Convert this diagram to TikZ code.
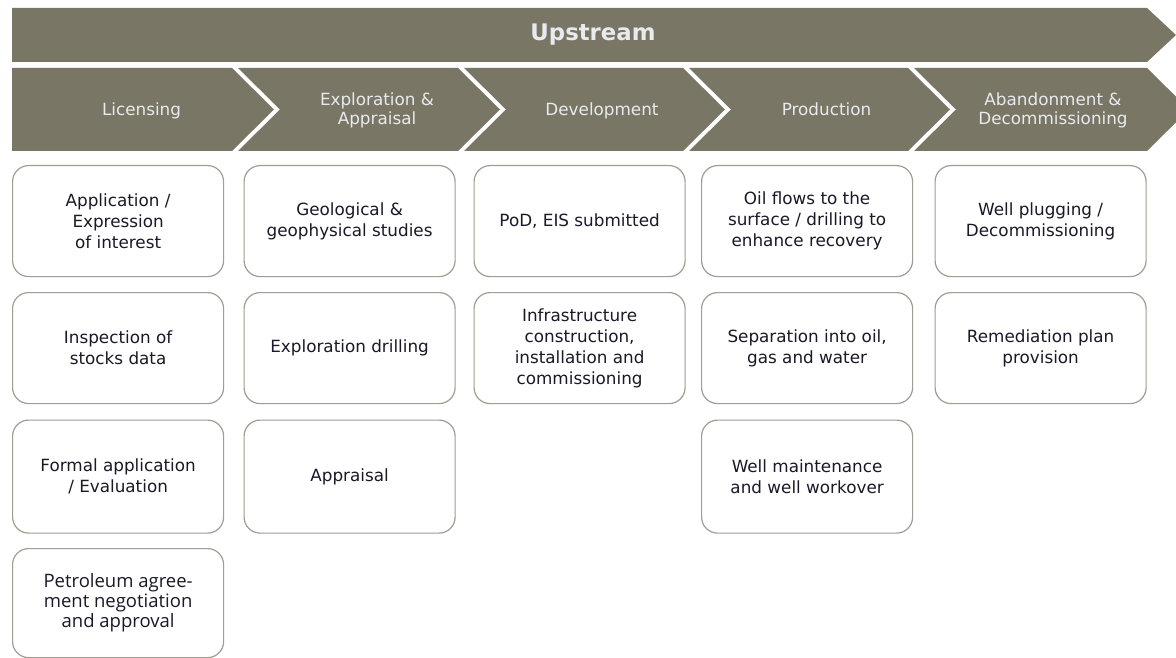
\documentclass[tikz,border=0pt]{standalone}
\usepackage{fontspec}
\setmainfont{DejaVu Sans}
\newfontfamily\segoe{Open Sans}
\definecolor{band}{RGB}{121,118,101}
\definecolor{bandtext}{RGB}{232,234,238}
\definecolor{boxline}{RGB}{158,158,146}
\definecolor{boxtext}{RGB}{25,25,40}
\tikzset{
  chev/.style={fill=band, draw=none},
  chevlabel/.style={text=bandtext, align=center, font=\fontsize{16.8}{19}\selectfont, inner sep=0pt},
  stagebox/.style={draw=boxline, line width=1.2pt, fill=white, rounded corners=16pt,
     minimum width=211pt, minimum height=111pt, anchor=north west, inner sep=0pt,
     text=boxtext, align=center, font=\fontsize{16.8}{21}\selectfont},
}
\begin{document}
\begin{tikzpicture}[x=1pt,y=-1pt]
\useasboundingbox (0,0) rectangle (1176,658);
\fill[white] (0,0) rectangle (1176,658);
% top banner
\fill[chev] (12,8) -- (1147,8) -- (1176,35) -- (1147,62) -- (12,62) -- cycle;
\node[text=bandtext, font=\bfseries\fontsize{22.8}{24}\selectfont, inner sep=0pt] (up) at (593,35) {Upstream};
% chevrons
\fill[chev] (12,68) -- (232,68) -- (274,109.5) -- (232,151) -- (12,151) -- cycle;
\fill[chev] (238,68) -- (458,68) -- (500,109.5) -- (458,151) -- (238,151) -- (280,109.5) -- cycle;
\fill[chev] (464,68) -- (683,68) -- (725,109.5) -- (683,151) -- (464,151) -- (506,109.5) -- cycle;
\fill[chev] (689,68) -- (908,68) -- (950,109.5) -- (908,151) -- (689,151) -- (731,109.5) -- cycle;
\fill[chev] (914,68) -- (1147,68) -- (1189,109.5) -- (1147,151) -- (914,151) -- (956,109.5) -- cycle;
\node[chevlabel] (lic) at (141.5,111) {Licensing};
\node[chevlabel] (exp) at (377,110) {Exploration \&\\Appraisal};
\node[chevlabel] (dev) at (602,111) {Development};
\node[chevlabel] (prod) at (826.5,109.2) {Production};
\node[chevlabel] (aban) at (1053,110) {Abandonment \&\\Decommissioning};
% column 1
\node[stagebox] (b11) at (12,165) {Application /\\Expression\\of interest};
\node[stagebox] (b12) at (12,292) {Inspection of\\stocks data};
\node[stagebox, minimum height=113pt] (b13) at (12,419.5) {Formal application\\/ Evaluation};
\node[stagebox, minimum height=109pt, font=\segoe\fontsize{18.5}{20}\selectfont] (b14) at (12,548) {Petroleum agree-\\ment negotiation\\and approval};
% column 2
\node[stagebox] (b21) at (243.5,165) {Geological \&\\geophysical studies};
\node[stagebox] (b22) at (243.5,292) {Exploration drilling};
\node[stagebox, minimum height=113pt] (b23) at (243.5,419.5) {Appraisal};
% column 3
\node[stagebox] (b31) at (473.5,165) {PoD, EIS submitted};
\node[stagebox] (b32) at (473.5,292) {Infrastructure\\construction,\\installation and\\commissioning};
% column 4
\node[stagebox] (b41) at (701,165) {Oil flows to the\\surface / drilling to\\enhance recovery};
\node[stagebox] (b42) at (701,292) {Separation into oil,\\gas and water};
\node[stagebox, minimum height=113pt] (b43) at (701,419.5) {Well maintenance\\and well workover};
% column 5
\node[stagebox] (b51) at (934.5,165) {Well plugging /\\Decommissioning};
\node[stagebox] (b52) at (934.5,292) {Remediation plan\\provision};
\end{tikzpicture}
\end{document}
